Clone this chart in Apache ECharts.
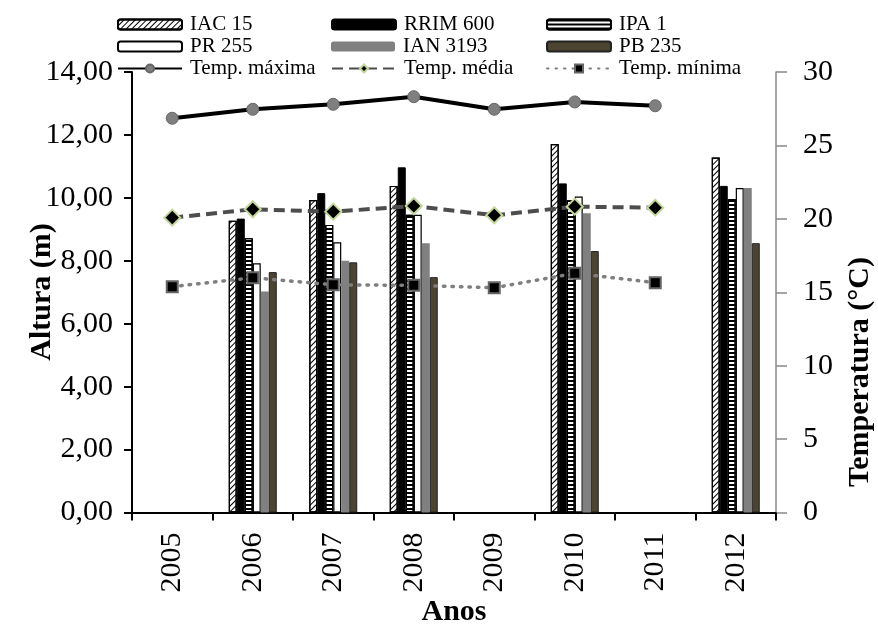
<!DOCTYPE html>
<html>
<head>
<meta charset="utf-8">
<script src="https://cdn.jsdelivr.net/npm/echarts@6/dist/echarts.min.js"></script>
<style>
html,body{margin:0;padding:0;background:#fff;}
#chart{width:878px;height:625px;}
</style>
</head>
<body>
<div id="chart"></div>
<script>
var years = ['2005','2006','2007','2008','2009','2010','2011','2012'];
var iac15   = [null, 9.27, 9.93, 10.38, null, 11.71, null, 11.28];
var rrim600 = [null, 9.34, 10.15, 10.97, null, 10.46, null, 10.38];
var ipa1    = [null, 8.72, 9.14, 9.46, null, 9.92, null, 9.96];
var pr255   = [null, 7.92, 8.59, 9.46, null, 10.04, null, 10.31];
var ian3193 = [null, 7.02, 8.00, 8.56, null, 9.51, null, 10.31];
var pb235   = [null, 7.64, 7.95, 7.48, null, 8.31, null, 8.56];
var tMax = [26.85, 27.46, 27.80, 28.32, 27.46, 27.96, 27.70, null];
var tMed = [20.08, 20.65, 20.49, 20.87, 20.24, 20.83, 20.76, null];
var tMin = [15.38, 15.99, 15.51, 15.47, 15.31, 16.29, 15.65, null];
var leftTicks = [0, 2, 4, 6, 8, 10, 12, 14];
var rightTicks = [0, 5, 10, 15, 20, 25, 30];

var serif = '"Liberation Serif", "DejaVu Serif", serif';
var chart = echarts.init(document.getElementById('chart'));

function bar(name, data, itemStyle) {
  return {name: name, type: 'bar', data: data, barWidth: 8, barGap: '0%',
          itemStyle: itemStyle, emphasis: {disabled: true}};
}

var series = [
  bar('IAC 15', iac15, {color: '#fff', borderColor: '#000', borderWidth: 1.2,
      decal: {symbol: 'rect', symbolSize: 1, dashArrayX: [1, 0], dashArrayY: [1, 2.2], rotation: -Math.PI / 4, color: '#000'}}),
  bar('RRIM 600', rrim600, {color: '#000', borderColor: '#000', borderWidth: 1}),
  bar('IPA 1', ipa1, {color: '#fff', borderColor: '#000', borderWidth: 1.2,
      decal: {symbol: 'rect', symbolSize: 1, dashArrayX: [1, 0], dashArrayY: [1.2, 2], rotation: 0, color: '#000'}}),
  bar('PR 255', pr255, {color: '#fff', borderColor: '#000', borderWidth: 1.2}),
  bar('IAN 3193', ian3193, {color: '#808080', borderColor: '#808080', borderWidth: 0}),
  bar('PB 235', pb235, {color: '#4a4430', borderColor: '#222', borderWidth: 1}),
  {name: 'Temp. máxima', type: 'line', yAxisIndex: 1, data: tMax, symbol: 'circle', symbolSize: 12,
   lineStyle: {color: '#000', width: 4}, itemStyle: {color: '#7f7f7f', borderColor: '#666', borderWidth: 1}, emphasis: {disabled: true}},
  {name: 'Temp. média', type: 'line', yAxisIndex: 1, data: tMed, symbol: 'diamond', symbolSize: 16,
   lineStyle: {color: '#4d4d4d', width: 4, type: [11, 6]}, itemStyle: {color: '#000', borderColor: '#c3d69b', borderWidth: 2}, emphasis: {disabled: true}},
  {name: 'Temp. mínima', type: 'line', yAxisIndex: 1, data: tMin, symbol: 'rect', symbolSize: 11,
   lineStyle: {color: '#7f7f7f', width: 3.5, type: [1.5, 7], cap: 'round'}, itemStyle: {color: '#000', borderColor: '#666', borderWidth: 2}, emphasis: {disabled: true}}
];

var legendPos = [
  ['IAC 15', 117, 25], ['RRIM 600', 331, 25], ['IPA 1', 546, 25],
  ['PR 255', 117, 47], ['IAN 3193', 331, 47], ['PB 235', 546, 47],
  ['Temp. máxima', 117, 69], ['Temp. média', 331, 69], ['Temp. mínima', 546, 69]
];
var legends = legendPos.map(function (p) {
  return {data: [p[0]], left: p[1], top: p[2] - 11, itemWidth: 64, itemHeight: 10, itemGap: 0, padding: 0,
          textStyle: {fontFamily: serif, fontSize: 21, color: '#000', padding: [0, 0, 0, 3]}, selectedMode: false};
});

chart.setOption({
  animation: false,
  backgroundColor: '#fff',
  legend: legends,
  grid: {left: 132, right: 102, top: 72, bottom: 112.5},
  xAxis: {type: 'category', data: years,
    axisLine: {lineStyle: {color: '#000', width: 2}},
    axisTick: {show: true, length: 8, lineStyle: {color: '#000', width: 2}},
    axisLabel: {rotate: 90, fontFamily: serif, fontSize: 30, color: '#000', margin: 20}},
  yAxis: [
    {type: 'value', min: 0, max: 14, interval: 2, position: 'left',
     axisLine: {show: true, lineStyle: {color: '#000', width: 2}},
     axisTick: {show: true, length: 8, lineStyle: {color: '#000', width: 2}},
     splitLine: {show: false},
     axisLabel: {fontFamily: serif, fontSize: 30, color: '#000', margin: 19,
       formatter: function (v) { return v.toFixed(2).replace('.', ','); }}},
    {type: 'value', min: 0, max: 30, interval: 5, position: 'right',
     axisLine: {show: true, lineStyle: {color: '#888', width: 1.5}},
     axisTick: {show: true, length: 11, lineStyle: {color: '#888', width: 1.5}},
     splitLine: {show: false},
     axisLabel: {fontFamily: serif, fontSize: 30, color: '#000', margin: 27}}
  ],
  graphic: [
    {type: 'text', x: 42, y: 292, rotation: Math.PI / 2,
     style: {text: 'Altura (m)', fontFamily: serif, fontSize: 30, fontWeight: 'bold', fill: '#000', align: 'center', verticalAlign: 'middle'}},
    {type: 'text', x: 860, y: 372, rotation: Math.PI / 2,
     style: {text: 'Temperatura (°C)', fontFamily: serif, fontSize: 30, fontWeight: 'bold', fill: '#000', align: 'center', verticalAlign: 'middle'}},
    {type: 'text', x: 454, y: 612,
     style: {text: 'Anos', fontFamily: serif, fontSize: 30, fontWeight: 'bold', fill: '#000', align: 'center', verticalAlign: 'middle'}}
  ],
  series: series
});
</script>
</body>
</html>
